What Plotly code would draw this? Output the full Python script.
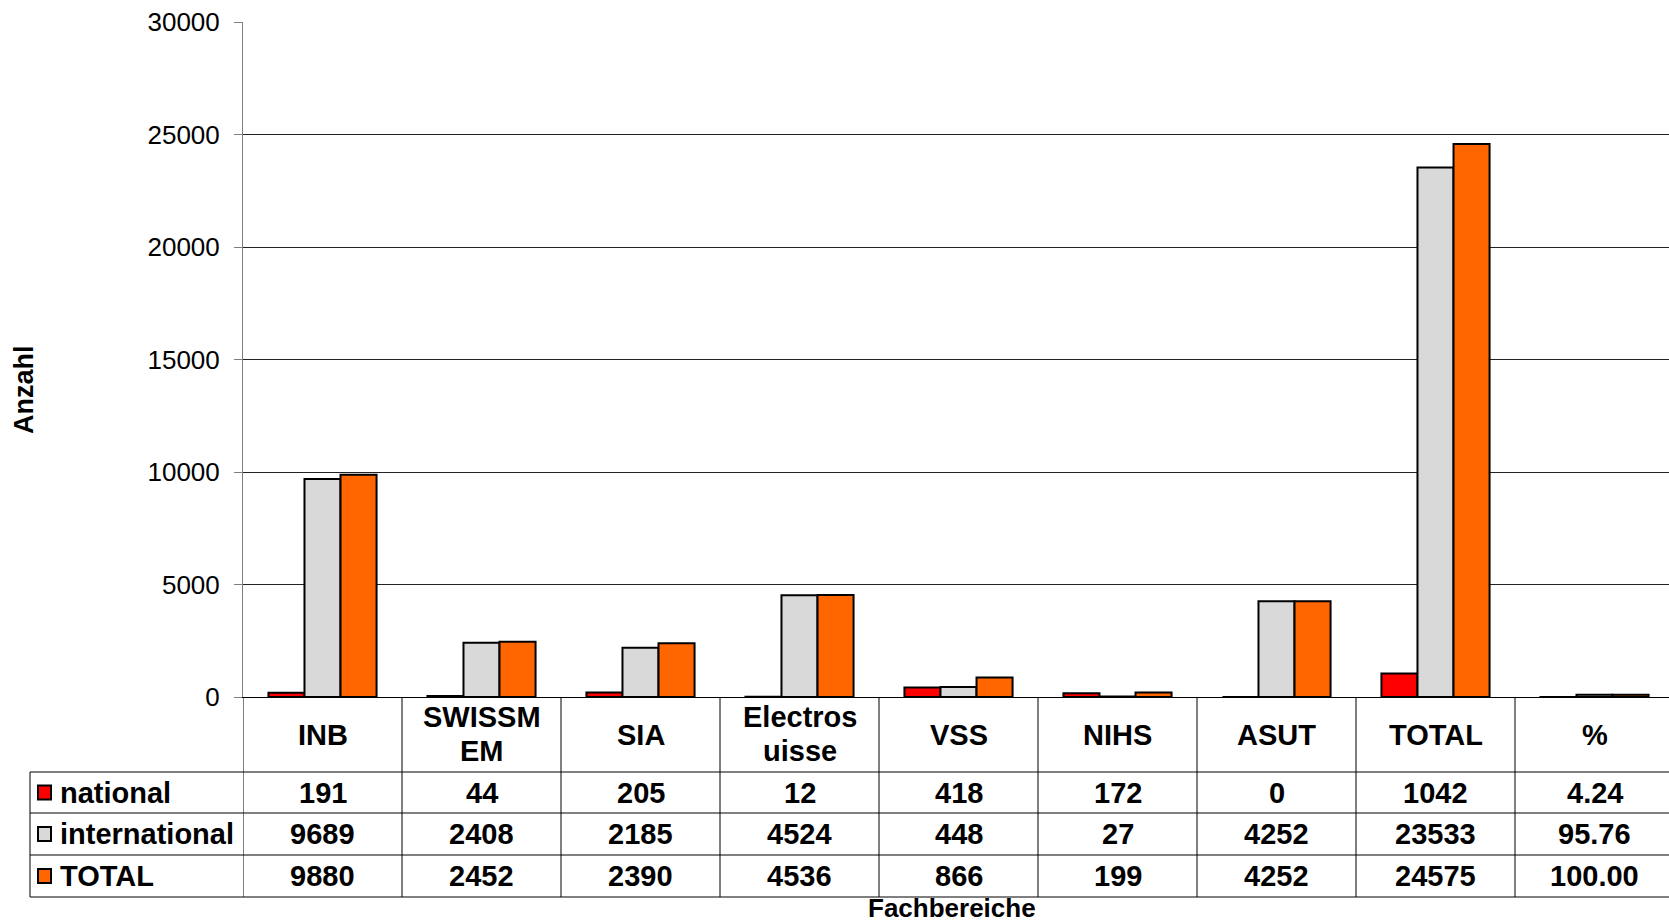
import plotly.graph_objects as go

categories = ["INB", "SWISSMEM", "SIA", "Electrosuisse", "VSS", "NIHS", "ASUT", "TOTAL", "%"]
header_labels = ["INB", "SWISSM<br>EM", "SIA", "Electros<br>uisse", "VSS", "NIHS", "ASUT", "TOTAL", "%"]
national = [191, 44, 205, 12, 418, 172, 0, 1042, 4.24]
international = [9689, 2408, 2185, 4524, 448, 27, 4252, 23533, 95.76]
total = [9880, 2452, 2390, 4536, 866, 199, 4252, 24575, 100.00]
series_names = ["national", "international", "TOTAL"]
series_values = [national, international, total]
colors = ["#FF0000", "#D9D9D9", "#FF6600"]
y_ticks = [0, 5000, 10000, 15000, 20000, 25000, 30000]

W, H = 1674, 923
L, R, T, B = 243, 1674, 22, 697
FONT = "Liberation Sans, Arial, sans-serif"
TS = 29  # table text size


def px_x(px):
    return (px - L) / (R - L)


def px_y(py):
    return (B - py) / (B - T)


fig = go.Figure()
for name, vals, col in zip(series_names, series_values, colors):
    fig.add_trace(go.Bar(
        x=categories, y=vals, name=name,
        marker=dict(color=col, line=dict(color="#000000", width=2)),
        showlegend=False,
    ))

shapes = []
ann = []
# table horizontal lines
for py in [772, 813, 855, 897]:
    shapes.append(dict(type="line", xref="paper", yref="paper",
                       x0=px_x(30), x1=1.0, y0=px_y(py), y1=px_y(py),
                       line=dict(color="#000000", width=1)))
# left border of legend column
shapes.append(dict(type="line", xref="paper", yref="paper",
                   x0=px_x(30), x1=px_x(30), y0=px_y(772), y1=px_y(897),
                   line=dict(color="#000000", width=1)))
# vertical category boundaries
for k in range(len(categories) + 1):
    shapes.append(dict(type="line", xref="x", yref="paper",
                       x0=k - 0.5, x1=k - 0.5, y0=0, y1=px_y(897),
                       line=dict(color="#000000", width=1)))

# header labels (multi-line labels placed line by line)
for cat, lab in zip(categories, header_labels):
    parts = lab.split("<br>")
    ys = [734.5] if len(parts) == 1 else [717, 751]
    for part, yy in zip(parts, ys):
        ann.append(dict(x=cat, xref="x", y=px_y(yy), yref="paper", text=part,
                        showarrow=False, xanchor="center", yanchor="middle",
                        font=dict(family=FONT, size=TS, color="#000000", weight="bold")))

row_centers = [792.5, 834, 876]
for name, vals, col, yc in zip(series_names, series_values, colors, row_centers):
    # legend key square
    shapes.append(dict(type="rect", xref="paper", yref="paper",
                       x0=px_x(38), x1=px_x(51), y0=px_y(yc + 7), y1=px_y(yc - 7),
                       fillcolor=col, line=dict(color="#000000", width=2)))
    ann.append(dict(x=px_x(58), xref="paper", y=px_y(yc), yref="paper", text=name,
                    showarrow=False, xanchor="left", yanchor="middle",
                    font=dict(family=FONT, size=TS, color="#000000", weight="bold")))
    for cat, v in zip(categories, vals):
        txt = f"{v:.2f}" if cat == "%" else f"{int(v)}"
        ann.append(dict(x=cat, xref="x", y=px_y(yc), yref="paper", text=txt,
                        showarrow=False, xanchor="center", yanchor="middle",
                        font=dict(family=FONT, size=TS, color="#000000", weight="bold")))

ann.append(dict(x=px_x(952), xref="paper", y=px_y(908), yref="paper", text="Fachbereiche",
                showarrow=False, xanchor="center", yanchor="middle",
                font=dict(family=FONT, size=26, color="#000000", weight="bold")))
ann.append(dict(x=px_x(24), xref="paper", y=px_y(390), yref="paper", text="Anzahl",
                textangle=-90, showarrow=False, xanchor="center", yanchor="middle",
                font=dict(family=FONT, size=27, color="#000000", weight="bold")))

fig.update_layout(
    width=W, height=H,
    margin=dict(l=L, r=W - R, t=T, b=H - B, autoexpand=False),
    paper_bgcolor="#FFFFFF", plot_bgcolor="#FFFFFF",
    barmode="group", bargap=0.32, bargroupgap=0,
    shapes=shapes, annotations=ann,
    font=dict(family=FONT, color="#000000"),
)
fig.update_xaxes(range=[-0.5, len(categories) - 0.5], showticklabels=False,
                 showgrid=False, ticks="", showline=True, linecolor="#000000",
                 linewidth=1, zeroline=False)
fig.update_yaxes(range=[0, 30000], tickvals=y_ticks, ticktext=[str(t) for t in y_ticks],
                 showgrid=True, gridcolor="#222222", gridwidth=1,
                 ticks="outside", ticklen=8, tickcolor="#808080",
                 showline=True, linecolor="#808080", linewidth=1, zeroline=False,
                 ticklabelstandoff=9,
                 tickfont=dict(family=FONT, size=26, color="#000000"))

fig.write_html("out.html", config={"displayModeBar": False},
               post_script="document.body.style.margin='0';document.body.style.overflow='hidden';")
